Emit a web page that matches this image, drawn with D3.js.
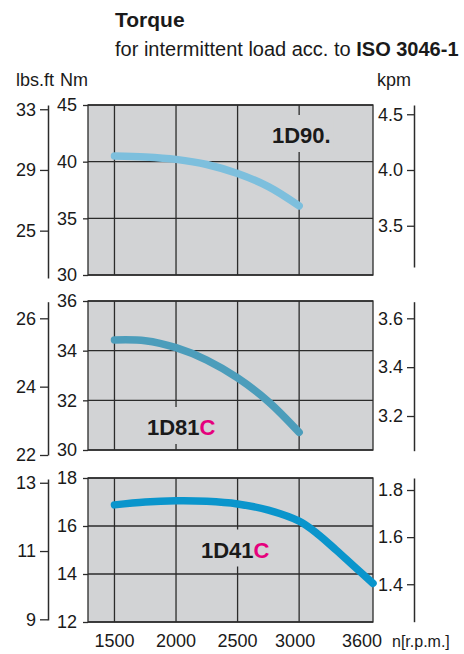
<!DOCTYPE html>
<html><head><meta charset="utf-8">
<script src="https://cdn.jsdelivr.net/npm/d3@7"></script>
<style>
html,body{margin:0;padding:0;background:#fff;}
svg{display:block;font-family:"Liberation Sans",Arial,sans-serif;}
</style></head>
<body><svg id="c" width="464" height="654"></svg>
<script>
// ---- data ----
const xTicks = [1500, 2000, 2500, 3000, 3600];
const gridRpm = [1500, 2000, 2500, 3000];

const rpm1D90 = [1500, 1750, 2000, 2250, 2500, 2750, 3000];
const torque1D90 = [40.5, 40.42, 40.2, 39.75, 38.95, 37.8, 36.1];

const rpm1D81C = [1500, 1750, 2000, 2250, 2500, 2750, 3000];
const torque1D81C = [34.43, 34.4, 34.12, 33.62, 32.9, 31.95, 30.71];

const rpm1D41C = [1500, 1750, 2000, 2250, 2500, 2750, 3000, 3150, 3300, 3450, 3600];
const torque1D41C = [16.88, 17.0, 17.05, 17.03, 16.92, 16.66, 16.2, 15.67, 15.0, 14.3, 13.61];

const nmTicks1 = [30, 35, 40, 45], lbsTicks1 = [25, 29, 33], kpmTicks1 = [3.5, 4.0, 4.5];
const nmTicks2 = [30, 32, 34, 36], lbsTicks2 = [22, 24, 26], kpmTicks2 = [3.2, 3.4, 3.6];
const nmTicks3 = [12, 14, 16, 18], lbsTicks3 = [9, 11, 13], kpmTicks3 = [1.4, 1.6, 1.8];

const labels = [["1D90", "."], ["1D81", "C"], ["1D41", "C"]];

// ---- layout ----
const svg = d3.select("#c");
const BG = "#d2d3d5", INK = "#2b2b2b", MAG = "#e5007d";
const x = d3.scaleLinear().domain([1285, 3600]).range([88, 373]);

const panels = [
  {top:105, bottom:275, nm:[30,45], nmTicks:nmTicks1,
   lbs:{dom:[21.88,33.28], rng:[278,105], ticks:lbsTicks1},
   kpm:{dom:[3.13,4.583], rng:[267,105], ticks:kpmTicks1, fmt:d3.format(".1f")},
   rpm:rpm1D90, tq:torque1D90, color:"#7dbfdd", label:labels[0], lx:272, ly:143},
  {top:301, bottom:450, nm:[30,36], nmTicks:nmTicks2,
   lbs:{dom:[22,26.486], rng:[455,301.7], ticks:lbsTicks2},
   kpm:{dom:[3.058,3.668], rng:[450.7,301.7], ticks:kpmTicks2, fmt:d3.format(".1f")},
   rpm:rpm1D81C, tq:torque1D81C, color:"#4c9dbb", label:labels[1], lx:147, ly:435},
  {top:478, bottom:622, nm:[12,18], nmTicks:nmTicks3,
   lbs:{dom:[8.98,13.11], rng:[620,479], ticks:lbsTicks3},
   kpm:{dom:[1.241,1.851], rng:[621.7,478], ticks:kpmTicks3, fmt:d3.format(".1f")},
   rpm:rpm1D41C, tq:torque1D41C, color:"#0a95cc", label:labels[2], lx:201, ly:557.5}
];

// titles
svg.append("text").attr("x",115).attr("y",27).attr("font-size",21).attr("font-weight","bold")
  .attr("fill","#1a1a1a").text("Torque");
const sub = svg.append("text").attr("x",115).attr("y",56).attr("font-size",20).attr("fill","#1a1a1a");
sub.append("tspan").text("for intermittent load acc. to ");
sub.append("tspan").attr("font-weight","bold").text("ISO 3046-1");
svg.append("text").attr("x",16).attr("y",86).attr("font-size",18).attr("fill","#1a1a1a").text("lbs.ft");
svg.append("text").attr("x",60).attr("y",86).attr("font-size",18).attr("fill","#1a1a1a").text("Nm");
svg.append("text").attr("x",377).attr("y",86).attr("font-size",18).attr("fill","#1a1a1a").text("kpm");

function styleAxis(g){
  g.selectAll("text").attr("font-size",18).attr("fill","#1a1a1a").attr("font-family","Liberation Sans, Arial, sans-serif");
  g.selectAll("line").attr("stroke",INK).attr("stroke-width",1.3);
  g.selectAll("path.domain").attr("stroke",INK).attr("stroke-width",1.5);
}

panels.forEach(p => {
  const y = d3.scaleLinear().domain(p.nm).range([p.bottom, p.top]);
  const g = svg.append("g");
  g.append("rect").attr("x",x.range()[0]).attr("y",p.top)
    .attr("width",x.range()[1]-x.range()[0]).attr("height",p.bottom-p.top).attr("fill",BG);
  g.selectAll("line.vg").data(gridRpm).join("line")
    .attr("x1",d=>x(d)).attr("x2",d=>x(d)).attr("y1",p.top).attr("y2",p.bottom)
    .attr("stroke",INK).attr("stroke-width",1.3);
  g.selectAll("line.hg").data(p.nmTicks).join("line")
    .attr("x1",x.range()[0]).attr("x2",x.range()[1]).attr("y1",d=>y(d)).attr("y2",d=>y(d))
    .attr("stroke",INK).attr("stroke-width",1.3);
  g.append("rect").attr("x",x.range()[0]).attr("y",p.top)
    .attr("width",x.range()[1]-x.range()[0]).attr("height",p.bottom-p.top)
    .attr("fill","none").attr("stroke",INK).attr("stroke-width",1.3);

  const ga = svg.append("g").attr("transform",`translate(${x.range()[0]},0)`)
    .call(d3.axisLeft(y).tickValues(p.nmTicks).tickSize(5).tickPadding(6).tickFormat(d3.format("d")));
  ga.select("path.domain").remove();
  styleAxis(ga);

  const yl = d3.scaleLinear().domain(p.lbs.dom).range(p.lbs.rng);
  const gl = svg.append("g").attr("transform","translate(48,0)")
    .call(d3.axisLeft(yl).tickValues(p.lbs.ticks).tickSize(8).tickSizeOuter(0).tickPadding(4).tickFormat(d3.format("d")));
  styleAxis(gl);

  const yk = d3.scaleLinear().domain(p.kpm.dom).range(p.kpm.rng);
  const gk = svg.append("g").attr("transform","translate(414,0)")
    .call(d3.axisLeft(yk).tickValues(p.kpm.ticks).tickSize(7).tickSizeOuter(0).tickPadding(4).tickFormat(p.kpm.fmt));
  styleAxis(gk);

  const lg = svg.append("g");
  const t = lg.append("text").attr("x",p.lx).attr("y",p.ly).attr("font-size",22)
    .attr("font-weight","bold").attr("fill","#1a1a1a");
  t.append("tspan").text(p.label[0]);
  t.append("tspan").attr("fill", p.label[1]==="C"?MAG:"#1a1a1a").text(p.label[1]);
  const bb = t.node().getBBox();
  lg.insert("rect","text").attr("x",bb.x-3).attr("y",bb.y-8).attr("width",bb.width+6)
    .attr("height",bb.height+12).attr("fill",BG);

  const pts = p.rpm.map((r,i)=>[r,p.tq[i]]);
  svg.append("path").datum(pts)
    .attr("d", d3.line().x(d=>x(d[0])).y(d=>y(d[1])).curve(d3.curveCatmullRom.alpha(0.5)))
    .attr("fill","none").attr("stroke",p.color).attr("stroke-width",7.5)
    .attr("stroke-linecap","round");
});

const xl = svg.append("g");
xl.selectAll("text").data(xTicks).join("text")
  .attr("x",d=>x(d) + (d===3600?-11:(d===3000?-4:0)))
  .attr("y",647).attr("text-anchor","middle").attr("font-size",18).attr("fill","#1a1a1a")
  .text(d=>d);
svg.append("text").attr("x",392).attr("y",647).attr("font-size",16).attr("fill","#1a1a1a").text("n[r.p.m.]");
</script></body></html>
